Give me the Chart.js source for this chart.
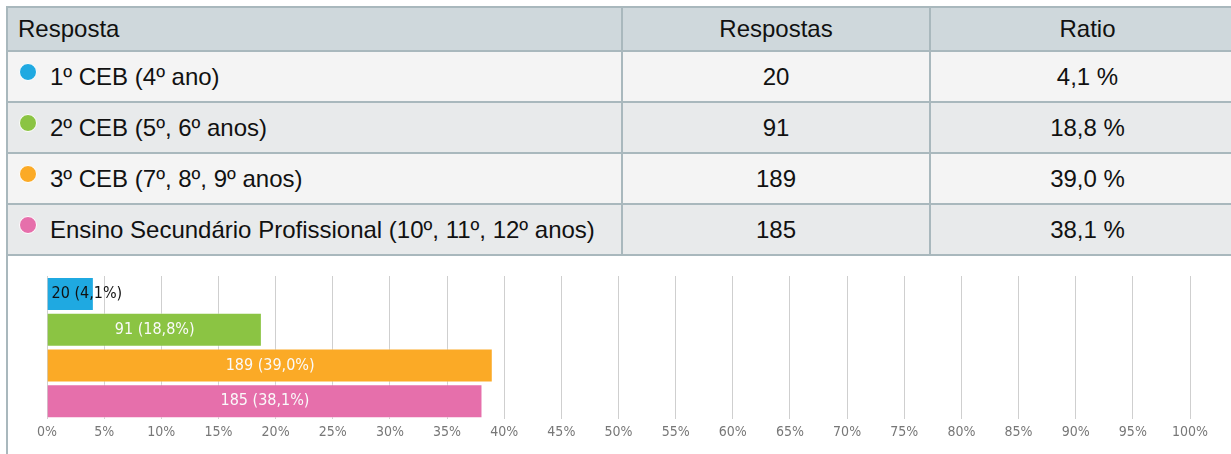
<!DOCTYPE html>
<html>
<head>
<meta charset="utf-8">
<script src="https://cdn.jsdelivr.net/npm/chart.js@4/dist/chart.umd.min.js"></script>
<style>
  html, body { margin: 0; padding: 0; background: #fff; overflow: hidden; }
  body { width: 1231px; height: 454px; position: relative; font-family: "Liberation Sans", Arial, sans-serif; }
  table { position: absolute; left: 6px; top: 6px; border-collapse: collapse; table-layout: fixed; width: 1240px; }
  td, th { border: 2px solid #a9b8bd; font-size: 24px; font-weight: normal; color: #111; padding: 0; white-space: nowrap; }
  th { background: #cfd8dc; height: 42px; }
  td { height: 49px; }
  tr.odd td { background: #f4f4f4; }
  tr.even td { background: #e8eaeb; }
  th.c1 { text-align: left; padding-left: 10px; }
  td.c1 { text-align: left; padding-left: 12px; }
  .c2, .c3 { text-align: center; }
  .dot { display: inline-block; width: 16px; height: 16px; border-radius: 50%; border: 1px solid #fff; vertical-align: 4px; margin-left: -1px; margin-right: 13px; }
  #leftline { position: absolute; left: 6px; top: 254px; width: 2px; height: 200px; background: #a9b8bd; }
  #wrap { position: absolute; left: 9px; top: 256px; width: 1222px; height: 198px; }
</style>
</head>
<body>
<table id="tbl">
  <colgroup><col style="width:615px"><col style="width:308px"><col></colgroup>
  <thead><tr><th class="c1">Resposta</th><th class="c2">Respostas</th><th class="c3">Ratio</th></tr></thead>
  <tbody id="tb"></tbody>
</table>
<div id="leftline"></div>
<div id="wrap"><canvas id="c"></canvas></div>
<script>
const categories = ['1º CEB (4º ano)', '2º CEB (5º, 6º anos)', '3º CEB (7º, 8º, 9º anos)', 'Ensino Secundário Profissional (10º, 11º, 12º anos)'];
const respostas = [20, 91, 189, 185];
const ratio = [4.1, 18.8, 39.0, 38.1];
const colors = ['#1fa9e1', '#8bc443', '#fbaa26', '#e66fab'];
const tickLabels = ['0%', '5%', '10%', '15%', '20%', '25%', '30%', '35%', '40%', '45%', '50%', '55%', '60%', '65%', '70%', '75%', '80%', '85%', '90%', '95%', '100%'];

const fmt = v => v.toFixed(1).replace('.', ',');

// table
const tb = document.getElementById('tb');
categories.forEach((c, i) => {
  const tr = document.createElement('tr');
  tr.className = i % 2 ? 'even' : 'odd';
  tr.innerHTML = '<td class="c1"><span class="dot" style="background:' + colors[i] + '"></span>' + c + '</td>' +
    '<td class="c2">' + respostas[i] + '</td><td class="c3">' + fmt(ratio[i]) + ' %</td>';
  tb.appendChild(tr);
});

// labels on bars
const barLabels = {
  id: 'barLabels',
  afterDatasetsDraw(chart) {
    const ctx = chart.ctx;
    const meta = chart.getDatasetMeta(0);
    ctx.save();
    ctx.font = '16px "DejaVu Sans Condensed", "DejaVu Sans", sans-serif';
    ctx.textBaseline = 'middle';
    meta.data.forEach((bar, i) => {
      const txt = respostas[i] + ' (' + fmt(ratio[i]) + '%)';
      const w = ctx.measureText(txt).width;
      const bw = bar.x - bar.base;
      if (w + 8 > bw) {
        ctx.fillStyle = '#111';
        ctx.textAlign = 'left';
        ctx.fillText(txt, bar.base + 4, bar.y);
      } else {
        ctx.fillStyle = '#fafafa';
        ctx.textAlign = 'center';
        ctx.fillText(txt, (bar.base + bar.x) / 2, bar.y);
      }
    });
    ctx.restore();
  }
};

new Chart(document.getElementById('c'), {
  type: 'bar',
  data: {
    labels: categories,
    datasets: [{
      data: ratio,
      backgroundColor: colors,
      borderColor: 'rgba(255,255,255,0.45)',
      borderWidth: 1,
      barPercentage: 0.95,
      categoryPercentage: 1
    }]
  },
  options: {
    indexAxis: 'y',
    responsive: true,
    maintainAspectRatio: false,
    animation: false,
    layout: { padding: { left: 38, right: 41, top: 20, bottom: 8 } },
    plugins: { legend: { display: false }, tooltip: { enabled: false } },
    scales: {
      x: {
        min: 0, max: 100,
        ticks: {
          stepSize: 5,
          padding: 5,
          color: '#777',
          font: { family: '"DejaVu Sans Condensed", "DejaVu Sans", sans-serif', size: 14 },
          callback: (v, i) => tickLabels[i]
        },
        grid: { color: '#cfcfcf', lineWidth: 1, drawTicks: false },
        border: { display: false }
      },
      y: { display: false }
    }
  },
  plugins: [barLabels]
});
</script>
</body>
</html>
